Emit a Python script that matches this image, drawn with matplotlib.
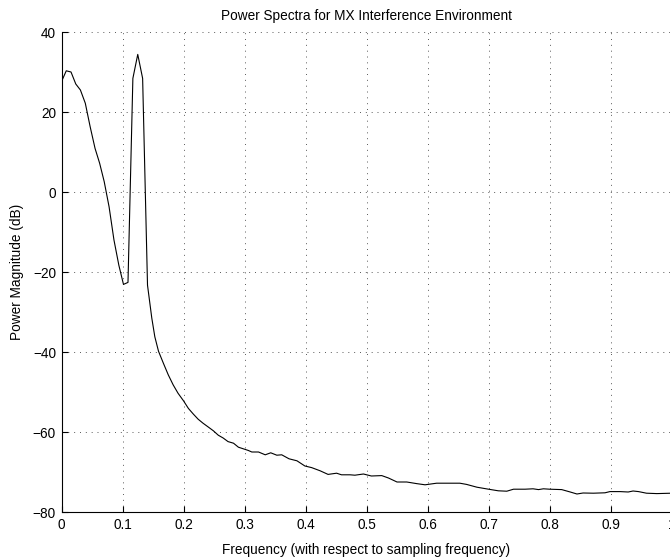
import numpy as np
import matplotlib
matplotlib.use("Agg")
import matplotlib.pyplot as plt

plt.rcParams['font.family'] = ['Liberation Sans', 'DejaVu Sans']

# values
freq = [0.000, 0.0078, 0.0156, 0.0234, 0.031, 0.039, 0.047, 0.055, 0.0625, 0.070,
        0.078, 0.086, 0.094, 0.1016, 0.109, 0.117, 0.125, 0.133, 0.141, 0.148,
        0.153, 0.159, 0.167, 0.175, 0.183, 0.191, 0.200, 0.208, 0.216, 0.224,
        0.232, 0.241, 0.249, 0.257, 0.265, 0.273, 0.282, 0.290, 0.298, 0.306,
        0.312, 0.323, 0.334, 0.343, 0.353, 0.361, 0.373, 0.386, 0.399, 0.410,
        0.424, 0.437, 0.451, 0.459, 0.473, 0.481, 0.495, 0.508, 0.525, 0.536,
        0.550, 0.566, 0.582, 0.596, 0.615, 0.634, 0.653, 0.664, 0.681, 0.700,
        0.716, 0.730, 0.741, 0.760, 0.773, 0.782, 0.790, 0.800, 0.820, 0.834,
        0.845, 0.855, 0.872, 0.891, 0.899, 0.916, 0.929, 0.937, 0.946, 0.959,
        0.976, 1.000]
power = [27.6, 30.3, 30.0, 27.0, 25.5, 22.2, 16.3, 10.9, 7.2, 2.6,
         -3.7, -12.0, -18.3, -23.1, -22.6, 28.4, 34.4, 28.4, -23.3, -31.5,
         -36.2, -39.8, -42.8, -45.7, -48.2, -50.3, -52.2, -54.1, -55.5, -56.8,
         -57.8, -58.8, -59.7, -60.8, -61.5, -62.4, -62.8, -63.8, -64.2, -64.6,
         -65.0, -65.0, -65.7, -65.2, -65.8, -65.7, -66.7, -67.2, -68.5, -68.9,
         -69.7, -70.6, -70.3, -70.7, -70.7, -70.8, -70.5, -71.0, -70.9, -71.5,
         -72.5, -72.5, -72.9, -73.2, -72.8, -72.8, -72.8, -73.1, -73.8, -74.3,
         -74.7, -74.8, -74.3, -74.3, -74.2, -74.4, -74.2, -74.3, -74.4, -75.0,
         -75.5, -75.25, -75.3, -75.2, -74.9, -74.9, -75.0, -74.75, -74.9, -75.3,
         -75.4, -75.3]

xticks = [0, 0.1, 0.2, 0.3, 0.4, 0.5, 0.6, 0.7, 0.8, 0.9, 1]
xticklabels = ['0', '0.1', '0.2', '0.3', '0.4', '0.5', '0.6', '0.7', '0.8', '0.9', '1']
yticks = [-80, -60, -40, -20, 0, 20, 40]

fig = plt.figure(figsize=(6.7, 5.58), dpi=100)
ax = fig.add_axes([61.5/670, 1 - 512/558, 610/670, 480/558])

ax.plot(freq, power, color='k', lw=0.8)

ax.set_xlim(0, 1)
ax.set_ylim(-80, 40)
ax.set_xticks(xticks)
ax.set_xticklabels(xticklabels)
ax.set_yticks(yticks)
ax.grid(True, color='0.35', lw=0.7, linestyle=(0, (1, 5)))

for s in ['top', 'right']:
    ax.spines[s].set_visible(False)
for s in ['left', 'bottom']:
    ax.spines[s].set_linewidth(0.8)
ax.tick_params(direction='in', length=4, width=0.8, labelsize=9.8, pad=4)

ax.set_title('Power Spectra for MX Interference Environment', fontsize=9.8, pad=8.5)
ax.set_xlabel('Frequency (with respect to sampling frequency)', fontsize=9.8, labelpad=8)
ax.set_ylabel('Power Magnitude (dB)', fontsize=9.8, labelpad=6)

fig.savefig('out.png', dpi=100)
